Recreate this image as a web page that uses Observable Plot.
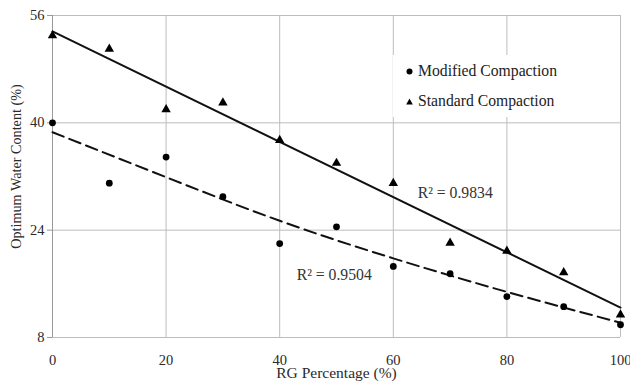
<!DOCTYPE html>
<html>
<head>
<meta charset="utf-8">
<script src="https://cdn.jsdelivr.net/npm/d3@7"></script>
<script src="https://cdn.jsdelivr.net/npm/@observablehq/plot@0.6"></script>
<style>
  html, body { margin: 0; padding: 0; background: #fff; }
  #wrap { position: relative; width: 630px; height: 385px; font-family: 'Liberation Serif', serif; }
  #wrap svg text { font-family: 'Liberation Serif', serif; }
  #legend { position: absolute; left: 393px; top: 55px; width: 178px; height: 62px; background: #fff;
            font-size: 15.7px; color: #222; font-family: 'Liberation Serif', serif; }
  #legend div { position: absolute; left: 13px; white-space: nowrap; }
  #legend svg { vertical-align: middle; margin-right: 5px; position: relative; top: -1px; }
</style>
</head>
<body>
<div id="wrap"></div>
<script>
// ---- data ----
const rgPercent = [0, 10, 20, 30, 40, 50, 60, 70, 80, 90, 100];
const modifiedOWC = [40.0, 31.0, 34.9, 29.0, 22.0, 24.5, 18.6, 17.5, 14.1, 12.6, 9.9];
const standardOWC = [53.0, 51.0, 42.0, 43.0, 37.4, 34.0, 31.0, 22.1, 20.9, 17.7, 11.4];
// trend curve of modified compaction
const modifiedTrendX = [0, 20, 40, 60, 80, 100];
const modifiedTrendY = [38.6, 31.9, 25.4, 19.8, 14.8, 10.2];
const xTicks = [0, 20, 40, 60, 80, 100];
const yTicks = [8, 24, 40, 56];
const annotations = [
  {x: 64.3, y: 29.5, label: "R² = 0.9834"},
  {x: 43.0, y: 17.3, label: "R² = 0.9504"}
];
const xLabel = "RG Percentage (%)";
const yLabel = "Optimum Water Content (%)";

const modified = rgPercent.map((x, i) => ({x, y: modifiedOWC[i]}));
const standard = rgPercent.map((x, i) => ({x, y: standardOWC[i]}));
const modTrend = modifiedTrendX.map((x, i) => ({x, y: modifiedTrendY[i]}));

const FONT = "Liberation Serif";

const chart = Plot.plot({
  width: 630,
  height: 385,
  marginLeft: 52,
  marginRight: 10,
  marginTop: 15,
  marginBottom: 48,
  style: {fontSize: "14.5px", color: "#2a2a2a", background: "#fff", overflow: "visible"},
  x: {domain: [0, 100], ticks: xTicks, label: null},
  y: {domain: [8, 56], ticks: yTicks, label: null},
  marks: [
    Plot.gridX(xTicks, {stroke: "#bdbdbd", strokeOpacity: 1}),
    Plot.gridY(yTicks, {stroke: "#bdbdbd", strokeOpacity: 1}),
    Plot.axisY(yTicks, {tickSize: 5, tickPadding: 3, stroke: "#999", label: null, fontFamily: FONT, fontSize: 14.5}),
    Plot.axisX(xTicks, {tickSize: 0, tickPadding: 17, label: null, fontFamily: FONT, fontSize: 14.5}),
    Plot.ruleX([0], {stroke: "#999"}),
    Plot.line(modTrend, {x: "x", y: "y", curve: "natural", stroke: "#111", strokeWidth: 2, strokeDasharray: "12,6"}),
    Plot.linearRegressionY(standard, {x: "x", y: "y", ci: 0, stroke: "#111", strokeWidth: 2}),
    Plot.dot(modified, {x: "x", y: "y", r: 3.4, fill: "#000", stroke: "none"}),
    Plot.dot(standard, {x: "x", y: "y", r: 3.5, symbol: "triangle", fill: "#000", stroke: "none"}),
    Plot.text(annotations, {x: "x", y: "y", text: "label", textAnchor: "start", fontSize: 15.7, fill: "#333", fontFamily: FONT}),
    Plot.text([yLabel], {frameAnchor: "left", textAnchor: "middle", lineAnchor: "middle", rotate: -90, dx: -36, dy: -10, text: d => d, fontSize: 14.2, fontFamily: FONT}),
    Plot.text([xLabel], {frameAnchor: "bottom", dy: 40, text: d => d, fontSize: 15.5, fontFamily: FONT})
  ]
});

const wrap = document.getElementById("wrap");
wrap.appendChild(chart);

const legend = document.createElement("div");
legend.id = "legend";
legend.innerHTML =
  '<div style="top:7px"><svg width="7" height="7"><circle cx="3.5" cy="3.5" r="3" fill="#000"/></svg>Modified Compaction</div>' +
  '<div style="top:37px"><svg width="7" height="7"><path d="M3.5,0.5 L6.8,6.5 L0.2,6.5 Z" fill="#000"/></svg>Standard Compaction</div>';
wrap.appendChild(legend);
</script>
</body>
</html>
